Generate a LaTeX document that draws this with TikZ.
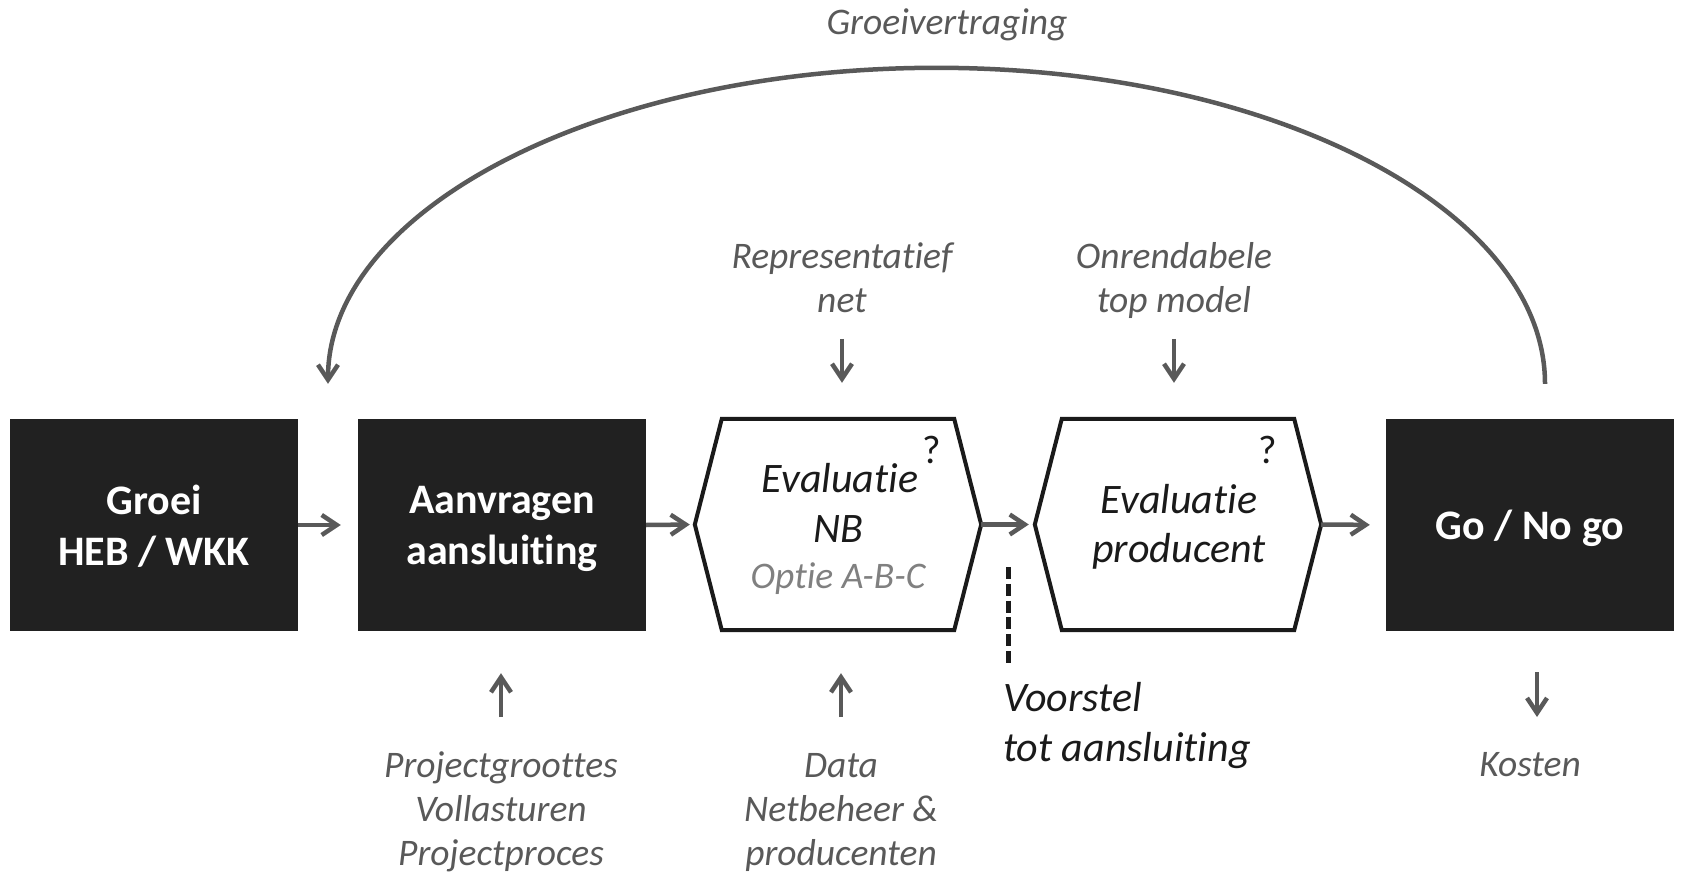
\documentclass[tikz,border=0pt]{standalone}
\usepackage{fontspec}
\setmainfont{Carlito}[Ligatures=CommonOff]
\usetikzlibrary{arrows.meta,calc}
\definecolor{boxfill}{HTML}{212121}
\definecolor{arrgray}{HTML}{595959}
\definecolor{txtgray}{HTML}{595959}
\definecolor{optgray}{HTML}{808080}
\definecolor{ink}{HTML}{1A1A1A}
\newcommand\myfs[2]{\fontsize{#1}{#2}\selectfont}
\begin{document}
\begin{tikzpicture}[x=1pt,y=-1pt,
  blackbox/.style={fill=boxfill, draw=none, minimum width=288pt, minimum height=212pt, inner sep=0pt, text=white, font=\myfs{42}{51}\bfseries, align=center, text depth=0pt},
  hexbox/.style={draw=none, minimum width=286pt, minimum height=211pt, inner sep=0pt},
  hexline/.style={draw=ink, line width=4pt, line join=miter},
  arr/.style={draw=arrgray, line width=4.5pt, -{Straight Barb[length=15pt,width=20pt]}},
  graytxt/.style={text=txtgray, font=\myfs{37.5}{45}\itshape, inner sep=0pt, anchor=base},
  inktxt/.style={text=ink, font=\myfs{42}{50}\itshape, inner sep=0pt, anchor=base},
  opttxt/.style={text=optgray, font=\myfs{37.5}{45}\itshape, inner sep=0pt, anchor=base},
  qmark/.style={text=ink, font=\myfs{40}{48}, inner sep=0pt, anchor=base},
  dashline/.style={draw=ink, line width=5pt, dash pattern=on 12pt off 4.8pt},
]
\path[use as bounding box] (0,0) rectangle (1681,874);

% main row
\node[blackbox] (b1) at (154,525) {Groei\\HEB / WKK};
\node[blackbox] (b2) at (502,525) {Aanvragen\\aansluiting};
\node[hexbox] (h1) at (838,524.5) {};
\node[hexbox] (h2) at (1178,524.5) {};
\node[blackbox] (b3) at (1530,525) {Go / No go};

\foreach \h in {h1,h2}{
  \draw[hexline] ([xshift=27pt]\h.north west) -- ([xshift=-27pt]\h.north east) -- (\h.east)
    -- ([xshift=-27pt]\h.south east) -- ([xshift=27pt]\h.south west) -- (\h.west) -- cycle;
}

% hexagon texts
\node[inktxt] (h1t1) at (840,492) {Evaluatie};
\node[inktxt] (h1t2) at (838,542) {NB};
\node[opttxt] (h1t3) at (838,588) {Optie A-B-C};
\node[qmark] (h1q) at (932,463) {?};
\node[inktxt] (h2t1) at (1179,513) {Evaluatie};
\node[inktxt] (h2t2) at (1179,562) {producent};
\node[qmark] (h2q) at (1268,463) {?};

% flow arrows
\draw[arr, shorten >=17pt] (b1.east) -- (b2.west);
\draw[arr, shorten >=5pt] (b2.east) -- (h1.west);
\draw[arr, shorten >=6pt] (h1.east) -- (h2.west);
\draw[arr, shorten >=16pt] (h2.east) -- (b3.west);

% feedback arc
\node[graytxt] (grw) at (947,35) {Groeivertraging};
\coordinate (arcS) at ([xshift=15pt,yshift=35pt]b3.north);
\draw[arr] (arcS) arc[start angle=0, end angle=180, x radius=608.5pt, y radius=316pt];

% top inputs
\node[graytxt] (rep1) at (842,269) {Representatief};
\node[graytxt] (rep2) at (842,313) {net};
\node[graytxt] (onr1) at (1174,269) {Onrendabele};
\node[graytxt] (onr2) at (1174,313) {top model};
\draw[arr, shorten <=26pt, shorten >=36pt] (rep2.base) -- (rep2.base |- h1.north);
\draw[arr, shorten <=26pt, shorten >=36pt] (onr2.base) -- (onr2.base |- h2.north);

% bottom inputs
\node[graytxt] (prj1) at (501,777) {Projectgroottes};
\node[graytxt] (prj2) at (501,821) {Vollasturen};
\node[graytxt] (prj3) at (501,865) {Projectproces};
\node[graytxt] (dat1) at (841,777) {Data};
\node[graytxt] (dat2) at (841,821) {Netbeheer \&};
\node[graytxt] (dat3) at (841,865) {producenten};
\draw[arr, shorten <=60pt, shorten >=42pt] (prj1.base) -- (prj1.base |- b2.south);
\draw[arr, shorten <=60pt, shorten >=43pt] (dat1.base) -- (dat1.base |- h1.south);

% output
\node[graytxt] (kst) at (1530,776) {Kosten};
\draw[arr, shorten <=41pt, shorten >=59pt] ([xshift=7pt]b3.south) -- ([xshift=7pt]b3.south |- kst.base);

% proposal marker
\coordinate (mid) at ($(h1.east)!0.5!(h2.west)$);
\draw[dashline] ([yshift=-42.5pt]mid) -- ([yshift=-138.5pt]mid);
\node[inktxt, anchor=base west] (vst1) at (1003,711) {Voorstel};
\node[inktxt, anchor=base west] (vst2) at (1003,761) {tot aansluiting};
\end{tikzpicture}
\end{document}
